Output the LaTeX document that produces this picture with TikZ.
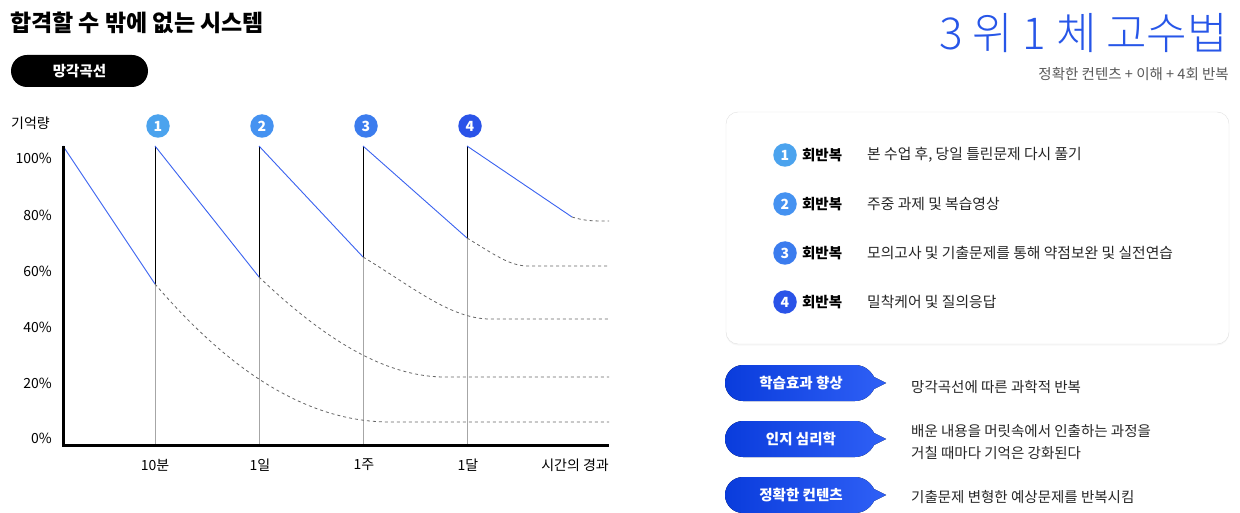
\documentclass[tikz,border=0pt]{standalone}
\usepackage{fontspec}
\setmainfont{Noto Sans CJK KR}
\newfontfamily\handfont{Noto Sans CJK KR}[UprightFont={* Light}]
\usetikzlibrary{positioning,shadows}
\definecolor{dotA}{HTML}{4BA3EE}
\definecolor{dotB}{HTML}{4592F1}
\definecolor{dotC}{HTML}{3B7CEE}
\definecolor{dotD}{HTML}{2A53E8}
\definecolor{memblue}{HTML}{3A62F0}
\definecolor{handblue}{HTML}{2756E8}
\definecolor{ptleft}{HTML}{0A3CDC}
\definecolor{ptright}{HTML}{2F60F6}
\newcommand\fsz[1]{\fontsize{#1}{#1}\selectfont}
\tikzset{
  numdot/.style={circle, fill=#1, text=white, font=\bfseries\fsz{14}, minimum size=23.5pt, inner sep=0pt},
  ylab/.style={anchor=east, inner sep=0pt, font=\fsz{14}},
  xlab/.style={inner sep=0pt, font=\fsz{14}},
  forget/.style={dash pattern=on 3pt off 3pt, black!60, line width=0.8pt},
  rowhead/.style={anchor=west, inner sep=0pt, font=\bfseries\fsz{14.5}},
  rowtext/.style={anchor=west, inner sep=0pt, font=\fsz{14.8}, text=black!85},
  pointertext/.style={inner sep=0pt, text=white, font=\bfseries\fsz{14.5}},
  desctext/.style={anchor=west, inner sep=0pt, font=\fsz{14.5}, text=black!85}
}
\begin{document}
\begin{tikzpicture}[x=1pt, y=-1pt]
\fill[white] (0,0) rectangle (1240,513);
\useasboundingbox (0,0) rectangle (1240,513);
%titel
\node[anchor=west, inner sep=0pt, font=\bfseries\fsz{23}] (title) at (10,23) {합격할 수 밖에 없는 시스템};
\node[fill=black, text=white, rounded corners=16pt, minimum width=137pt, minimum height=32pt, inner sep=0pt, font=\bfseries\fsz{14.5}] (curve) at (79.5,71) {망각곡선};
\node[anchor=east, inner sep=0pt, text=handblue, font=\handfont\fsz{44}] (hand) at (1228,33) {3 위 1 체 고수법};
\node[anchor=east, inner sep=0pt, text=black!65, font=\fsz{14.5}] (sub) at (1229,74) {정확한 컨텐츠 + 이해 + 4회 반복};
%achsen
\node[anchor=west, inner sep=0pt, font=\fsz{14}] (ylabel) at (11,123) {기억량};
\foreach \p/\y in {100/158, 80/215, 60/271, 40/327, 20/383, 0/438} {
  \node[ylab] (y\p) at (52,\y) {\p\%};
}
\foreach \t/\x [count=\i] in {10분/155, 1일/260, 1주/364, 1달/468} {
  \node[xlab] (x\i) at (\x,465) {\t};
}
\node[xlab, anchor=east] (xlabel) at (609,465) {시간의 경과};
%wiederholungen
\foreach \x/\d in {155/284, 259/277, 363/257, 467/238} {
  \draw[black!35, line width=0.8pt] (\x,\d) -- (\x,444);
  \draw[black, line width=1pt] (\x,146) -- (\x,\d);
}
\foreach \n/\x/\c in {1/158/dotA, 2/262/dotB, 3/366/dotC, 4/470/dotD} {
  \node[numdot=\c] (n\n) at (\x,126) {\n};
}
\draw[memblue, line width=0.9pt] (63,146) -- (155,284) (155,146) -- (259,277)
  (259,146) -- (363,257) (363,146) -- (467,238) (467,146) -- (572,217);
%vergessen
\draw[forget] (155,284) .. controls (222,362) and (300,422) .. (390,422) -- (609,422);
\draw[forget] (259,277) .. controls (330,345) and (390,377) .. (445,377) -- (609,377);
\draw[forget] (363,257) .. controls (410,285) and (450,319) .. (490,319) -- (609,319);
\draw[forget] (467,238) .. controls (495,255) and (510,266) .. (528,266) -- (609,266);
\draw[forget] (572,217) .. controls (585,221) and (592,221) .. (609,221);
\draw[line width=3pt] (63,146) -- (63,445) -- (609,445);
%karte
\draw[black!12, fill=white, rounded corners=12pt, drop shadow={opacity=0.06, shadow xshift=0pt, shadow yshift=-1.5pt}] (726,112) rectangle (1229,344);
\foreach \n/\y/\c/\t in {1/155/dotA/{본 수업 후, 당일 틀린문제 다시 풀기}, 2/204/dotB/{주중 과제 및 복습영상},
    3/253/dotC/{모의고사 및 기출문제를 통해 약점보완 및 실전연습}, 4/302/dotD/{밀착케어 및 질의응답}} {
  \node[numdot=\c] (r\n) at (785,\y) {\n};
  \node[rowhead, right=5pt of r\n] (h\n) {회반복};
  \node[rowtext] (t\n) at (867,\y) {\t};
}
%zeiger
\foreach \y/\t [count=\i] in {383/학습효과 향상, 439/인지 심리학, 495/정확한 컨텐츠} {
  \fill[left color=ptleft, right color=ptright] (743,\y-18) -- (855,\y-18)
    .. controls (866,\y-18) and (872,\y-10) .. (874,\y-6) -- (886,\y) -- (874,\y+6)
    .. controls (872,\y+10) and (866,\y+18) .. (855,\y+18) -- (743,\y+18)
    arc[start angle=90, end angle=270, radius=18] -- cycle;
  \node[pointertext] (p\i) at (801,\y) {\t};
}
\node[desctext] (d1) at (911,387) {망각곡선에 따른 과학적 반복};
\node[desctext] (d2) at (911,431) {배운 내용을 머릿속에서 인출하는 과정을};
\node[desctext] (d3) at (911,453) {거칠 때마다 기억은 강화된다};
\node[desctext] (d4) at (911,497) {기출문제 변형한 예상문제를 반복시킴};
\end{tikzpicture}
\end{document}
